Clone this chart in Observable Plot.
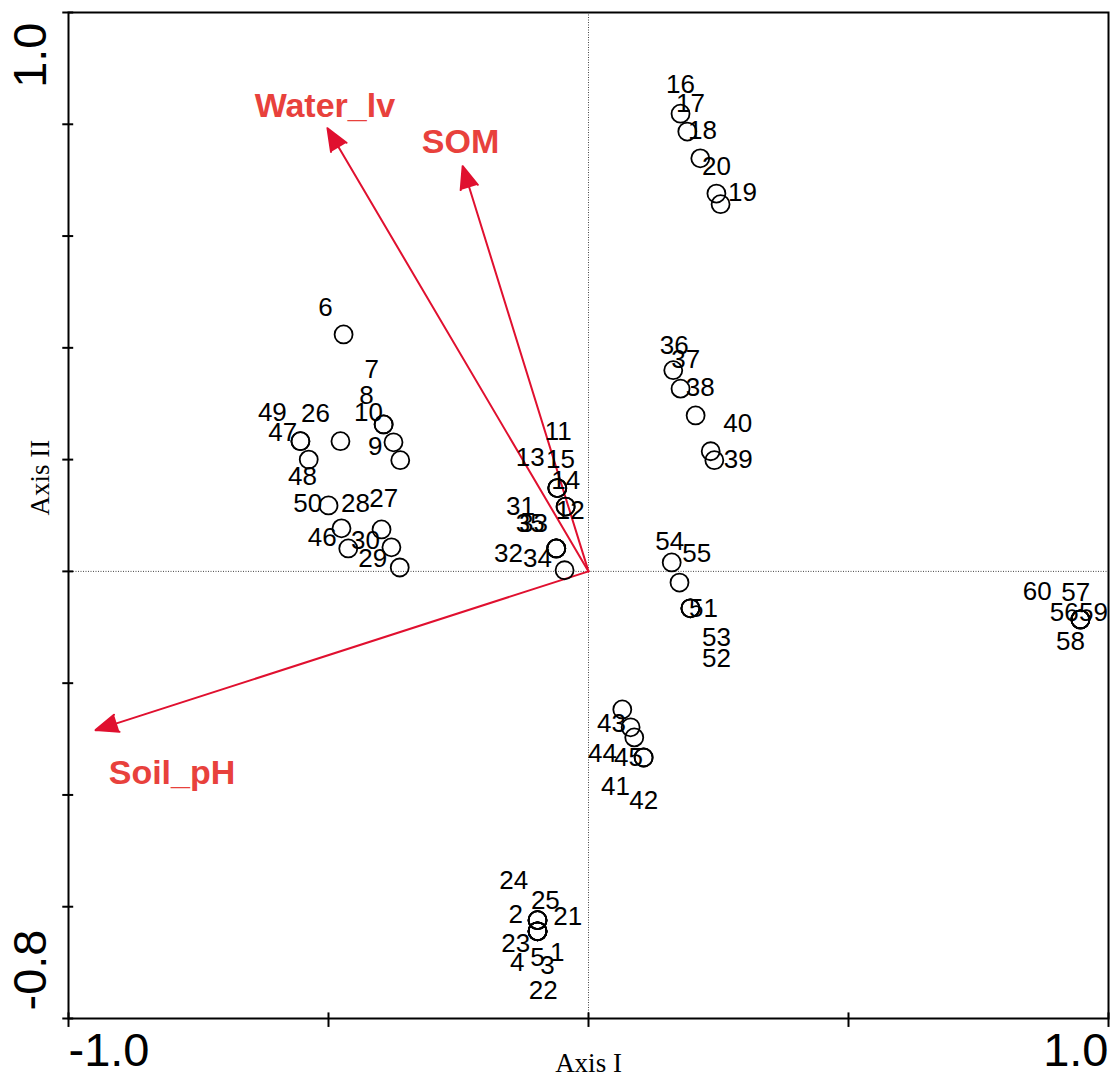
<!DOCTYPE html>
<html><head><meta charset="utf-8">
<script src="https://cdn.jsdelivr.net/npm/d3@7"></script>
<script src="https://cdn.jsdelivr.net/npm/@observablehq/plot@0.6"></script>
<style>body{margin:0;background:#fff}</style>
</head><body><div id="chart"></div>
<script>
// Sample (site) scores
const siteIds = d3.range(1, 61);
const siteX = [
 -0.098,-0.098,-0.098,-0.098,-0.098,
 -0.471,-0.362,-0.394,-0.375,-0.394,
 -0.060,-0.044,-0.060,-0.060,-0.044,
  0.177, 0.190, 0.215, 0.254, 0.246,
 -0.098,-0.098,-0.098,-0.098,-0.098,
 -0.477,-0.398,-0.363,-0.379,-0.462,
 -0.062,-0.062,-0.062,-0.046,-0.062,
  0.163, 0.177, 0.206, 0.242, 0.235,
  0.106, 0.106, 0.065, 0.081, 0.088,
 -0.475,-0.554,-0.538,-0.554,-0.500,
  0.196, 0.196, 0.196, 0.160, 0.175,
  0.946, 0.946, 0.946, 0.946, 0.946
];
const siteY = [
 -0.644,-0.624,-0.644,-0.644,-0.644,
  0.424, 0.199, 0.263, 0.231, 0.263,
  0.149, 0.116, 0.149, 0.149, 0.116,
  0.819, 0.787, 0.739, 0.657, 0.676,
 -0.624,-0.644,-0.644,-0.624,-0.624,
  0.233, 0.075, 0.007, 0.043, 0.041,
  0.041, 0.041, 0.041, 0.002, 0.041,
  0.360, 0.327, 0.279, 0.199, 0.215,
 -0.333,-0.333,-0.247,-0.279,-0.297,
  0.077, 0.233, 0.200, 0.233, 0.118,
 -0.066,-0.066,-0.066, 0.016,-0.020,
 -0.086,-0.086,-0.086,-0.086,-0.086
];
// Label positions (as placed in the original diagram)
const labelX = [
 -0.060,-0.140,-0.079,-0.137,-0.098,
 -0.506,-0.417,-0.427,-0.410,-0.423,
 -0.058,-0.035,-0.112,-0.044,-0.054,
  0.177, 0.196, 0.219, 0.296, 0.246,
 -0.040,-0.087,-0.140,-0.144,-0.083,
 -0.525,-0.394,-0.448,-0.415,-0.429,
 -0.131,-0.154,-0.106,-0.098,-0.112,
  0.165, 0.187, 0.215, 0.288, 0.287,
  0.052, 0.106, 0.044, 0.027, 0.077,
 -0.512,-0.588,-0.550,-0.608,-0.540,
  0.221, 0.246, 0.246, 0.156, 0.208,
  0.915, 0.937, 0.927, 0.971, 0.863
];
const labelY = [
 -0.682,-0.615,-0.705,-0.700,-0.692,
  0.472, 0.361, 0.315, 0.224, 0.284,
  0.250, 0.109, 0.204, 0.163, 0.199,
  0.871, 0.837, 0.789, 0.678, 0.725,
 -0.617,-0.751,-0.666,-0.553,-0.589,
  0.283, 0.131, 0.122, 0.023, 0.055,
  0.115, 0.032, 0.086, 0.023, 0.086,
  0.404, 0.378, 0.329, 0.200, 0.265,
 -0.386,-0.410,-0.272,-0.327,-0.333,
  0.061, 0.249, 0.170, 0.284, 0.122,
 -0.066,-0.156,-0.118, 0.054, 0.032,
 -0.073,-0.038,-0.125,-0.073,-0.036
];
// Environmental variables
const envName = ["Water_lv", "SOM", "Soil_pH"];
const envX = [-0.502, -0.242, -0.948];
const envY = [0.793, 0.725, -0.284];
const envLabelX = [-0.507, -0.246, -0.801];
const envLabelY = [0.832, 0.768, -0.361];
// Axes
const xTicks = [-1.0, -0.5, 0, 0.5, 1.0];
const yTicks = [-0.8, -0.6, -0.4, -0.2, 0, 0.2, 0.4, 0.6, 0.8, 1.0];
const xTickLabels = [{v: -1.0, t: "-1.0"}, {v: 1.0, t: "1.0"}];
const yTickLabels = [{v: 1.0, t: "1.0"}, {v: -0.8, t: "-0.8"}];

const sites = siteIds.map((id, i) => ({id, x: siteX[i], y: siteY[i], lx: labelX[i], ly: labelY[i]}));
const env = envName.map((n, i) => ({n, x: envX[i], y: envY[i], lx: envLabelX[i], ly: envLabelY[i]}));

const red = "#e0102f";
const redText = "#e8413c";
const serif = "'Times New Roman', 'Liberation Serif', serif";

const plot = Plot.plot({
  width: 1120, height: 1079,
  marginLeft: 68, marginRight: 12, marginTop: 12, marginBottom: 61,
  x: {domain: [-1, 1], axis: null},
  y: {domain: [-0.8, 1.0], axis: null},
  style: {fontFamily: "Arial, 'Liberation Sans', sans-serif", background: "white", overflow: "visible"},
  marks: [
    Plot.ruleX([0], {stroke: "#444", strokeWidth: 1, strokeDasharray: "1,1.5"}),
    Plot.ruleY([0], {stroke: "#444", strokeWidth: 1, strokeDasharray: "1,1.5"}),
    Plot.frame({stroke: "black", strokeWidth: 2}),
    Plot.ruleX(xTicks, {x: d => d, y1: -0.816, y2: -0.790, stroke: "black", strokeWidth: 2}),
    Plot.ruleY(yTicks, {y: d => d, x1: -1.011, x2: -0.990, stroke: "black", strokeWidth: 2}),
    Plot.text(xTickLabels.filter(d => d.v < 0), {x: "v", text: "t", frameAnchor: "bottom", dy: 32, textAnchor: "start", lineAnchor: "middle", fontSize: 47}),
    Plot.text(xTickLabels.filter(d => d.v > 0), {x: "v", text: "t", frameAnchor: "bottom", dy: 32, textAnchor: "end", lineAnchor: "middle", fontSize: 47}),
    Plot.text(yTickLabels.filter(d => d.v > 0), {y: "v", text: "t", frameAnchor: "left", dx: -38, dy: 10, rotate: -90, textAnchor: "end", lineAnchor: "middle", fontSize: 47}),
    Plot.text(yTickLabels.filter(d => d.v < 0), {y: "v", text: "t", frameAnchor: "left", dx: -38, dy: -8, rotate: -90, textAnchor: "start", lineAnchor: "middle", fontSize: 47}),
    Plot.text(["Axis I"], {frameAnchor: "bottom", dy: 45, lineAnchor: "middle", fontFamily: serif, fontSize: 27}),
    Plot.text(["Axis II"], {frameAnchor: "left", dx: -28, rotate: -90, lineAnchor: "middle", fontFamily: serif, fontSize: 27}),
    Plot.arrow(env, {x1: d => 0, y1: d => 0, x2: "x", y2: "y", stroke: red, fill: red, strokeWidth: 2, headLength: 18, headAngle: 44}),
    Plot.text(env, {x: "lx", y: "ly", text: "n", fill: redText, fontWeight: "bold", fontSize: 34, textAnchor: "middle", lineAnchor: "middle"}),
    Plot.dot(sites, {x: "x", y: "y", r: 9, stroke: "black", strokeWidth: 1.8, fill: "none"}),
    Plot.text(sites, {x: "lx", y: "ly", text: d => String(d.id), fill: "black", fontSize: 26, textAnchor: "middle", lineAnchor: "middle"})
  ]
});
document.getElementById("chart").appendChild(plot);
</script>
</body></html>
